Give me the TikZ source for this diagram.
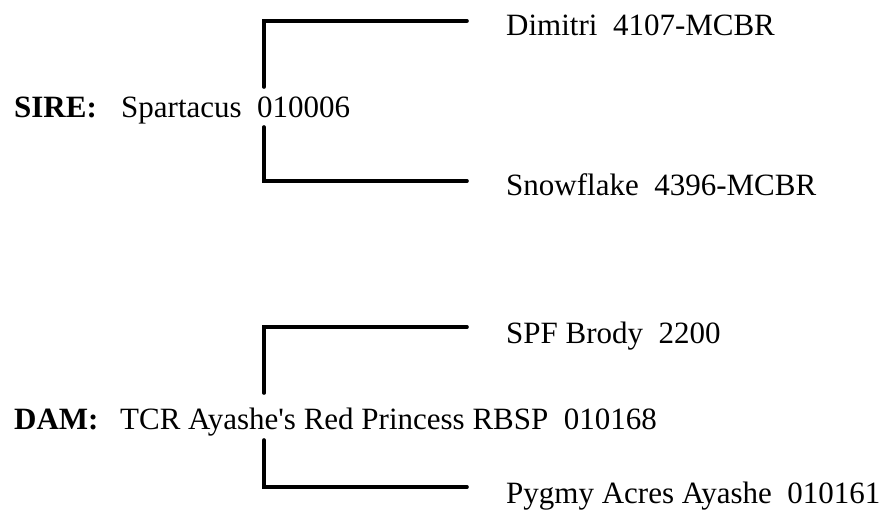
\documentclass[tikz,border=0pt]{standalone}
\usepackage{fontspec}
\setmainfont{Liberation Serif}
\newfontfamily\rfont{Liberation Serif}
\begin{document}
\begin{tikzpicture}[x=1pt,y=-1pt,
  lbl/.style={anchor=base west, inner sep=0pt, font=\rfont\fontsize{31}{37}\selectfont},
  bracket/.style={line width=3.6pt, line cap=round, line join=miter}]
\useasboundingbox (0,0) rectangle (890,509);
% sire
\node[lbl] (sirelbl) at (14,117) {\bfseries SIRE:};
\node[lbl] (sire) at (121,117) {Spartacus\ \ 010006};
\node[lbl] (s1) at (506,35) {Dimitri\ \ 4107-MCBR};
\node[lbl] (s2) at (506,195) {Snowflake\ \ 4396-MCBR};
\coordinate (sa) at (264,87);
\coordinate (sb) at (264,127);
\coordinate (s1e) at (467,21);
\coordinate (s2e) at (467,181);
\draw[bracket] (sa) |- (s1e);
\draw[bracket] (sb) |- (s2e);
% dam
\node[lbl] (damlbl) at (14,429) {\bfseries DAM:};
\node[lbl] (dam) at (120,429) {TCR Ayashe's Red Princess RBSP\ \ 010168};
\node[lbl] (d1) at (506,343) {SPF Brody\ \ 2200};
\node[lbl] (d2) at (506,503) {Pygmy Acres Ayashe\ \ 010161};
\coordinate (da) at (264,393);
\coordinate (db) at (264,440);
\coordinate (d1e) at (467,327);
\coordinate (d2e) at (467,487);
\draw[bracket] (da) |- (d1e);
\draw[bracket] (db) |- (d2e);
\end{tikzpicture}
\end{document}
